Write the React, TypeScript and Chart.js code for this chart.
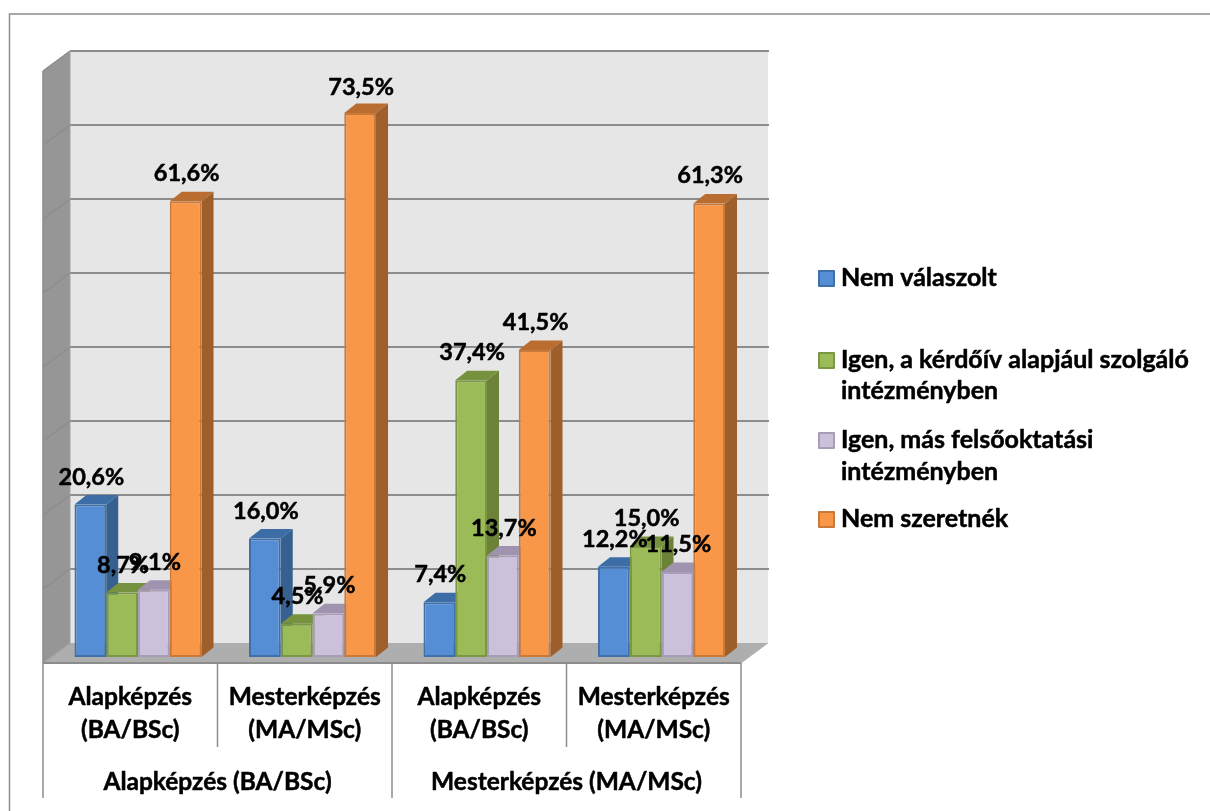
import React, { useEffect, useRef } from "react";
import { Chart, registerables } from "chart.js";

Chart.register(...registerables);

const groupLabels = ["Alapképzés (BA/BSc)", "Mesterképzés (MA/MSc)"];
const categories = [
  ["Alapképzés", "(BA/BSc)"],
  ["Mesterképzés", "(MA/MSc)"],
  ["Alapképzés", "(BA/BSc)"],
  ["Mesterképzés", "(MA/MSc)"],
];
const nemValaszolt = [20.6, 16.0, 7.4, 12.2];
const igenIntezmeny = [8.7, 4.5, 37.4, 15.0];
const igenMas = [9.1, 5.9, 13.7, 11.5];
const nemSzeretnek = [61.6, 73.5, 41.5, 61.3];
const seriesNames = [
  "Nem válaszolt",
  "Igen, a kérdőív alapjául szolgáló intézményben",
  "Igen, más felsőoktatási intézményben",
  "Nem szeretnék",
];
const legendLines = [
  ["Nem válaszolt"],
  ["Igen, a kérdőív alapjául szolgáló", "intézményben"],
  ["Igen, más felsőoktatási", "intézményben"],
  ["Nem szeretnék"],
];

const palette = [
  { front: "#558ED5", border: "#3F70AB", top: "#3C6DA6", side: "#35608F" },
  { front: "#9BBB59", border: "#7B9645", top: "#76923F", side: "#6C8239" },
  { front: "#CCC1DA", border: "#A89CB8", top: "#A093B0", side: "#8F8499" },
  { front: "#F99749", border: "#C9793A", top: "#B96D31", side: "#9E5F2B" },
];

const FONT = "Lato, Carlito, sans-serif";
const WALL = { dx: 27, dy: 20, backShift: -14 };
const BAR = { dx: 12, dy: 9.5 };
const AXIS = { left: 43, step: 174.5, row1: 697, row2: 730, group: 782, innerEnd: 747, outerEnd: 798 };

function poly(ctx: CanvasRenderingContext2D, pts: number[][], fill: string) {
  ctx.beginPath();
  pts.forEach((p, i) => (i ? ctx.lineTo(p[0], p[1]) : ctx.moveTo(p[0], p[1])));
  ctx.closePath();
  ctx.fillStyle = fill;
  ctx.fill();
}
function line(ctx: CanvasRenderingContext2D, x1: number, y1: number, x2: number, y2: number, color = "#8C8C8C", w = 2) {
  ctx.beginPath();
  ctx.moveTo(x1, y1);
  ctx.lineTo(x2, y2);
  ctx.strokeStyle = color;
  ctx.lineWidth = w;
  ctx.stroke();
}
function boldText(ctx: CanvasRenderingContext2D, t: string, x: number, y: number) {
  ctx.fillText(t, x, y);
  ctx.strokeText(t, x, y);
}

const scene3d = {
  id: "scene3d",
  beforeDatasetsDraw(chart: any) {
    const { ctx, scales } = chart;
    const y = scales.y;
    const x = scales.x;
    const backL = 70;
    const backR = backL + x.width;
    const frontL = backL - WALL.dx;
    const frontR = backR - WALL.dx;
    const yTop = y.getPixelForValue(80) + WALL.backShift;
    const yFloorBack = y.getPixelForValue(0) + WALL.backShift;
    const yFloorFront = yFloorBack + WALL.dy;
    ctx.save();
    ctx.strokeStyle = "#8C8C8C";
    ctx.lineWidth = 1.5;
    ctx.beginPath();
    ctx.moveTo(9.5, 812);
    ctx.lineTo(9.5, 14);
    ctx.lineTo(1211, 14);
    ctx.stroke();
    poly(ctx, [[backL, yTop], [backR, yTop], [backR, yFloorBack], [backL, yFloorBack]], "#E6E6E6");
    poly(ctx, [[frontL, yTop + WALL.dy], [backL, yTop], [backL, yFloorBack], [frontL, yFloorFront]], "#969696");
    poly(ctx, [[backL, yFloorBack], [backR, yFloorBack], [frontR, yFloorFront], [frontL, yFloorFront]], "#AEAEAE");
    y.ticks.forEach((t: any) => {
      const py = y.getPixelForValue(t.value) + WALL.backShift;
      if (t.value > 0) line(ctx, backL, py, backR + 1, py);
      line(ctx, frontL, py + WALL.dy, backL, py, t.value > 0 ? "#8C8C8C" : "#A0A0A0", 1.5);
    });
    line(ctx, frontL, yTop + WALL.dy, frontL, yFloorFront, "#8C8C8C", 1.5);
    line(ctx, backL, yTop, backL, yFloorBack, "#A0A0A0", 1);
    line(ctx, frontL, yFloorFront, frontR, yFloorFront);
    line(ctx, frontR, yFloorFront, backR, yFloorBack, "#B4B4B4", 1);
    for (let i = 0; i <= 4; i++) {
      const px = frontL + i * AXIS.step;
      line(ctx, px, yFloorFront, px, i % 2 === 0 ? AXIS.outerEnd : AXIS.innerEnd, "#8C8C8C", 1.5);
    }
    ctx.restore();
  },
  // the default pass paints the last series first; the 3D look needs left-to-right
  beforeDatasetDraw() {
    return false;
  },
  afterDatasetsDraw(chart: any) {
    const { ctx, data } = chart;
    ctx.save();
    data.datasets.forEach((_: any, i: number) => {
      const colors = palette[i];
      chart.getDatasetMeta(i).data.forEach((bar: any) => {
        const { x, y, base, width } = bar.getProps(["x", "y", "base", "width"], true);
        const l = x - width / 2;
        const r = x + width / 2;
        poly(ctx, [[r, y], [r + BAR.dx, y - BAR.dy], [r + BAR.dx, base - BAR.dy], [r, base]], colors.side);
        poly(ctx, [[l, y], [l + BAR.dx, y - BAR.dy], [r + BAR.dx, y - BAR.dy], [r, y]], colors.top);
        bar.draw(ctx, chart.chartArea);
      });
    });
    ctx.textAlign = "center";
    ctx.textBaseline = "middle";
    ctx.fillStyle = "#000";
    ctx.strokeStyle = "#000";
    ctx.lineWidth = 0.5;
    ctx.lineJoin = "round";
    ctx.font = `bold 23.5px ${FONT}`;
    data.datasets.forEach((ds: any, i: number) => {
      chart.getDatasetMeta(i).data.forEach((bar: any, j: number) => {
        const v = ds.data[j];
        const text = v.toFixed(1).replace(".", ",") + "%";
        boldText(ctx, text, bar.x + 1, bar.y - (v > 70 ? 26 : 27.5));
      });
    });
    ctx.font = `bold 24.5px ${FONT}`;
    data.labels.forEach((lab: string[], i: number) => {
      const cx = AXIS.left + (i + 0.5) * AXIS.step;
      boldText(ctx, lab[0], cx, AXIS.row1);
      boldText(ctx, lab[1], cx, AXIS.row2);
    });
    groupLabels.forEach((g, i) => {
      boldText(ctx, g, AXIS.left + (2 * i + 1) * AXIS.step, AXIS.group);
    });
    const rows = [[278, 278], [360, 360, 391], [440, 440, 472], [519, 519]];
    ctx.font = `bold 25px ${FONT}`;
    legendLines.forEach((lines, i) => {
      const c = palette[i];
      const sy = rows[i][0];
      ctx.fillStyle = c.front;
      ctx.strokeStyle = c.border;
      ctx.lineWidth = 2;
      ctx.fillRect(819, sy - 7, 15, 15);
      ctx.strokeRect(819, sy - 7, 15, 15);
      ctx.fillStyle = "#000";
      ctx.strokeStyle = "#000";
      ctx.lineWidth = 0.5;
      ctx.textAlign = "left";
      lines.forEach((t, k) => boldText(ctx, t, 841, rows[i][k + 1]));
    });
    ctx.restore();
  },
};

export default function App() {
  const ref = useRef<HTMLCanvasElement>(null);
  useEffect(() => {
    const series = [nemValaszolt, igenIntezmeny, igenMas, nemSzeretnek];
    const chart = new Chart(ref.current!, {
      type: "bar",
      data: {
        labels: categories as any,
        datasets: series.map((data, i) => ({
          label: seriesNames[i],
          data,
          backgroundColor: palette[i].front,
          borderColor: palette[i].border,
          borderWidth: 2,
          borderSkipped: false,
        })),
      },
      options: {
        responsive: false,
        animation: false,
        layout: { padding: { left: 50.75, right: 461.25, top: 65, bottom: 154 } },
        datasets: { bar: { barPercentage: 1, categoryPercentage: 0.728 } },
        plugins: { legend: { display: false }, title: { display: false }, tooltip: { enabled: false } },
        scales: {
          x: { display: false },
          y: { display: false, min: 0, max: 80, ticks: { stepSize: 10 } },
        },
      },
      plugins: [scene3d],
    } as any);
    return () => chart.destroy();
  }, []);
  return (
    <canvas
      ref={ref}
      width={1210}
      height={811}
      style={{ position: "absolute", left: 0, top: 0, width: 1210, height: 811, background: "#fff" }}
    />
  );
}
